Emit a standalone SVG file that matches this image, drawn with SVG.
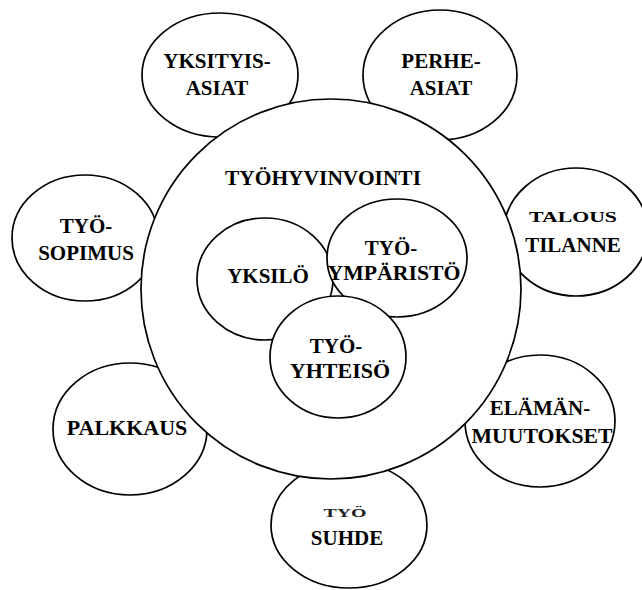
<svg xmlns="http://www.w3.org/2000/svg" width="642" height="590" viewBox="0 0 642 590">
<style>
.c{fill:#fff;stroke:#000;stroke-width:1.7}
.t{font-family:"Liberation Serif","Times New Roman",serif;font-weight:bold;font-size:21px;fill:#000;text-anchor:middle}
.b{font-size:22px}
</style>
<rect width="642" height="590" fill="#fff"/>
<g id="yksityisasiat">
<ellipse class="c" cx="220" cy="75" rx="78" ry="62"/>
<text class="t" x="217" y="68">YKSITYIS-</text>
<text class="t" x="217" y="95">ASIAT</text>
</g>
<g id="perheasiat">
<ellipse class="c" cx="440" cy="75" rx="77" ry="65"/>
<text class="t" x="441" y="68">PERHE-</text>
<text class="t" x="441" y="95">ASIAT</text>
</g>
<g id="tyosopimus">
<ellipse class="c" cx="85" cy="238" rx="73" ry="63"/>
<text class="t" x="86" y="233">TYÖ-</text>
<text class="t" x="86" y="260">SOPIMUS</text>
</g>
<g id="taloustilanne">
<ellipse class="c" cx="576" cy="232" rx="72" ry="64"/>
<text class="t" x="573" y="222" style="font-size:15px" textLength="88" lengthAdjust="spacingAndGlyphs">TALOUS</text>
<text class="t" x="573" y="252">TILANNE</text>
</g>
<g id="palkkaus">
<ellipse class="c" cx="130" cy="429" rx="77" ry="66"/>
<text class="t b" x="127" y="435">PALKKAUS</text>
</g>
<g id="elamanmuutokset">
<ellipse class="c" cx="540" cy="421" rx="75" ry="66"/>
<text class="t" x="540" y="415">ELÄMÄN-</text>
<text class="t" x="542" y="443" textLength="141" lengthAdjust="spacingAndGlyphs">MUUTOKSET</text>
</g>
<g id="tyosuhde">
<ellipse class="c" cx="349" cy="525" rx="78" ry="63"/>
<text class="t" x="345" y="517" style="font-size:13px;fill:#222" textLength="43" lengthAdjust="spacingAndGlyphs">TYÖ</text>
<text class="t" x="347" y="545">SUHDE</text>
</g>
<g id="tyohyvinvointi">
<circle class="c" cx="331" cy="289" r="190"/>
<text class="t" x="323" y="185" textLength="196" lengthAdjust="spacingAndGlyphs">TYÖHYVINVOINTI</text>
</g>
<g id="yksilo">
<ellipse class="c" cx="265" cy="279" rx="68" ry="61"/>
<text class="t" x="268" y="283">YKSILÖ</text>
</g>
<g id="tyoymparisto">
<ellipse class="c" cx="397" cy="258" rx="70" ry="59"/>
<text class="t" x="391" y="255">TYÖ-</text>
<text class="t" x="394" y="280" textLength="133" lengthAdjust="spacingAndGlyphs">YMPÄRISTÖ</text>
</g>
<g id="tyoyhteiso">
<ellipse class="c" cx="338" cy="357" rx="68" ry="61"/>
<text class="t" x="336" y="353">TYÖ-</text>
<text class="t b" x="340" y="378">YHTEISÖ</text>
</g>
</svg>
